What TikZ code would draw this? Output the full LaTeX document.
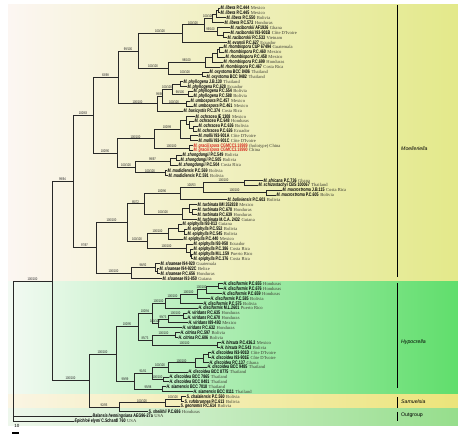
\documentclass[tikz,border=0pt]{standalone}
\usepackage{fontspec}
\setmainfont{Liberation Serif}
\newfontfamily\taxfont[FakeStretch=0.72]{Liberation Sans}
\newfontfamily\ctryfont{Liberation Serif}
\newfontfamily\cladefont{Liberation Sans}
\definecolor{moelL}{RGB}{252,246,242}
\definecolor{moelR}{RGB}{227,233,138}
\definecolor{hypoL}{RGB}{243,250,243}
\definecolor{hypoM}{RGB}{160,234,160}
\definecolor{hypoR}{RGB}{96,222,108}
\definecolor{samuL}{RGB}{250,245,228}
\definecolor{samuR}{RGB}{236,228,122}
\definecolor{outgL}{RGB}{238,247,236}
\definecolor{outgR}{RGB}{150,222,140}
\definecolor{gred}{RGB}{214,38,28}
\definecolor{ctry}{RGB}{60,60,50}
\definecolor{brc}{RGB}{40,40,40}
\newcommand{\tx}[3]{{\bfseries\itshape #1} {\bfseries #2}\hspace{1.5pt}{\ctryfont\fontsize{4.6}{5}\selectfont\color{ctry}#3}}

\begin{document}
\begin{tikzpicture}[x=1pt,y=-4.92pt,
  br/.style={draw=brc,line width=0.9pt},
  leaf/.style={anchor=west,inner sep=0.4pt,font=\taxfont\fontsize{5.1}{5.2}\selectfont},
  bs/.style={anchor=south,inner sep=0.3pt,text=black!85,font=\taxfont\fontsize{3.8}{3.8}\selectfont},
  clade/.style={draw=black,line width=0.8pt},
  cladename/.style={anchor=west,inner sep=0pt,font=\cladefont\fontsize{5.2}{6}\selectfont}]
\useasboundingbox (0,-0.626) rectangle (458,88.6);
%
\shade[left color=moelL,right color=moelR] (8,0.39) rectangle (458,56.5);
\shade[left color=hypoL,middle color=hypoM,right color=hypoR] (8,56.5) rectangle (458,79.5);
\shade[left color=samuL,right color=samuR] (8,79.5) rectangle (458,82.5);
\shade[left color=outgL,right color=outgR] (8,82.5) rectangle (458,85.9);
%
% Moelleriella
\node[leaf] at (220,1) (lib444) {\tx{M. libera}{P.C.444}{Mexico}};
\node[leaf] at (220,2) (lib445) {\tx{M. libera}{P.C.445}{Mexico}};
\node[leaf] at (226,3) (lib550) {\tx{M. libera}{P.C.550}{Bolivia}};
\node[leaf] at (224,4) (lib572) {\tx{M. libera}{P.C.572}{Honduras}};
\node[leaf] at (230,5) (racAF) {\tx{M. raciborskii}{AF1926}{Ghana}};
\node[leaf] at (230,6) (rac901B) {\tx{M. raciborskii}{I93-901B}{Côte D'Ivoire}};
\node[leaf] at (227,7) (rac533) {\tx{M. raciborskii}{P.C.533}{Vietnam}};
\node[leaf] at (227,8) (eva627) {\tx{M. evansii}{P.C.627}{Ecuador}};
\node[leaf] at (223,9) (rhoCUP) {\tx{M. rhombispora}{CUP 67494}{Guatemala}};
\node[leaf] at (224,10) (rho460) {\tx{M. rhombispora}{P.C.460}{Mexico}};
\node[leaf] at (225,11) (rho458) {\tx{M. rhombispora}{P.C.458}{Mexico}};
\node[leaf] at (223,12) (rho699) {\tx{M. rhombispora}{P.C.699}{Honduras}};
\node[leaf] at (220,13) (rho467) {\tx{M. rhombispora}{P.C.467}{Costa Rica}};
\node[leaf] at (209,14) (oxy8406) {\tx{M. oxystoma}{BCC 8406}{Thailand}};
\node[leaf] at (206,15) (oxy9482) {\tx{M. oxystoma}{BCC 9482}{Thailand}};
\node[leaf] at (183,16) (phy130) {\tx{M. phyllogena}{J.B.130}{Thailand}};
\node[leaf] at (187,17) (phy628) {\tx{M. phyllogena}{P.C.628}{Ecuador}};
\node[leaf] at (193,18) (phy554) {\tx{M. phyllogena}{P.C.554}{Bolivia}};
\node[leaf] at (193,19) (phy588) {\tx{M. phyllogena}{P.C.588}{Bolivia}};
\node[leaf] at (190,20) (umb457) {\tx{M. umbospora}{P.C.457}{Mexico}};
\node[leaf] at (193,21) (umb461) {\tx{M. umbospora}{P.C.461}{Mexico}};
\node[leaf] at (183,22) (bas374) {\tx{M. basicystis}{P.C.374}{Costa Rica}};
\node[leaf] at (195,23) (och1308) {\tx{M. ochracea}{IE 1308}{Mexico}};
\node[leaf] at (194,24) (och648) {\tx{M. ochracea}{P.C.648}{Honduras}};
\node[leaf] at (198,25) (och636) {\tx{M. ochracea}{P.C.636}{Bolivia}};
\node[leaf] at (197,26) (och626) {\tx{M. ochracea}{P.C.626}{Ecuador}};
\node[leaf] at (198,27) (mol901A) {\tx{M. mollii}{I93-901A}{Côte D'Ivoire}};
\node[leaf] at (198,28) (mol901C) {\tx{M. mollii}{I93-901C}{Côte D'Ivoire}};
\node[leaf,text=gred] at (193,29) (gra89) {\tx{M. gracilispora}{CGMCC3.18989}{(holotype) China}};
\node[leaf,text=gred] at (193,30) (gra90) {\tx{M. gracilispora}{CGMCC3.18990}{China}};
\node[leaf] at (182,31) (zho549) {\tx{M. zhongdongii}{P.C.549}{Bolivia}};
\node[leaf] at (180,32) (zho505) {\tx{M. zhongdongii}{P.C.505}{Bolivia}};
\node[leaf] at (178,33) (zho504) {\tx{M. zhongdongii}{P.C.504}{Costa Rica}};
\node[leaf] at (167,34) (mad569) {\tx{M. madidiensis}{P.C.569}{Bolivia}};
\node[leaf] at (168,35) (mad591) {\tx{M. madidiensis}{P.C.591}{Bolivia}};
\node[leaf] at (263,36) (afr736) {\tx{M. africana}{P.C.736}{Ghana}};
\node[leaf] at (258,37) (sch067) {\tx{M. schizostachyi}{CBS 100067}{Thailand}};
\node[leaf] at (282,38) (mac115) {\tx{M. macrostroma}{J.B.115}{Costa Rica}};
\node[leaf] at (276,39) (mac605) {\tx{M. macrostroma}{P.C.605}{Bolivia}};
\node[leaf] at (227,40) (bol603) {\tx{M. boliviensis}{P.C.603}{Bolivia}};
\node[leaf] at (197,41) (turIMI) {\tx{M. turbinata}{IMI 352838}{Mexico}};
\node[leaf] at (197,42) (tur678) {\tx{M. turbinata}{P.C.678}{Honduras}};
\node[leaf] at (197,43) (tur639) {\tx{M. turbinata}{P.C.639}{Honduras}};
\node[leaf] at (197,44) (turMCA) {\tx{M. turbinata}{M.C.A. 2432}{Guiana}};
\node[leaf] at (182,45) (epi813) {\tx{M. epiphylla}{I93-813}{Guiana}};
\node[leaf] at (187,46) (epi552) {\tx{M. epiphylla}{P.C.552}{Bolivia}};
\node[leaf] at (187,47) (epi545) {\tx{M. epiphylla}{P.C.545}{Bolivia}};
\node[leaf] at (183,48) (epi440) {\tx{M. epiphylla}{P.C.440}{Mexico}};
\node[leaf] at (193,49) (epi958) {\tx{M. epiphylla}{I93-958}{Ecuador}};
\node[leaf] at (193,50) (epi386) {\tx{M. epiphylla}{P.C.386}{Costa Rica}};
\node[leaf] at (193,51) (epi159) {\tx{M. epiphylla}{M.L.159}{Puerto Rico}};
\node[leaf] at (193,52) (epi376) {\tx{M. epiphylla}{P.C.376}{Costa Rica}};
\node[leaf] at (160,53) (slo920) {\tx{M. sloaneae}{I94-920}{Guatemala}};
\node[leaf] at (159,54) (slo922) {\tx{M. sloaneae}{I94-922C}{Belize}};
\node[leaf] at (160,55) (slo656) {\tx{M. sloaneae}{P.C.656}{Honduras}};
\node[leaf] at (162,56) (slo850) {\tx{M. sloaneae}{I93-850}{Guiana}};
%
% Hypocrella
\node[leaf] at (223,57) (dis655) {\tx{H. disciformis}{P.C.655}{Honduras}};
\node[leaf] at (223,58) (dis676) {\tx{H. disciformis}{P.C.676}{Honduras}};
\node[leaf] at (222,59) (dis659) {\tx{H. disciformis}{P.C.659}{Honduras}};
\node[leaf] at (210,60) (dis585) {\tx{H. disciformis}{P.C.585}{Bolivia}};
\node[leaf] at (203,61) (dis575) {\tx{H. disciformis}{P.C.575}{Bolivia}};
\node[leaf] at (198,62) (dis2601) {\tx{H. disciformis}{M.L.2601}{Puerto Rico}};
\node[leaf] at (187,63) (vir635) {\tx{H. viridans}{P.C.635}{Honduras}};
\node[leaf] at (187,64) (vir670) {\tx{H. viridans}{P.C.670}{Honduras}};
\node[leaf] at (188,65) (vir493) {\tx{H. viridans}{I89-493}{Mexico}};
\node[leaf] at (182,66) (vir632) {\tx{H. viridans}{P.C.632}{Honduras}};
\node[leaf] at (180,67) (cit597) {\tx{H. citrina}{P.C.597}{Bolivia}};
\node[leaf] at (178,68) (cit606) {\tx{H. citrina}{P.C.606}{Bolivia}};
\node[leaf] at (221,69) (hir436) {\tx{H. hirsuta}{P.C.436.2}{Mexico}};
\node[leaf] at (220,70) (hir543) {\tx{H. hirsuta}{P.C.543}{Bolivia}};
\node[leaf] at (211,71) (dcd901D) {\tx{H. discoidea}{I93-901D}{Côte D'Ivoire}};
\node[leaf] at (211,72) (dcd901E) {\tx{H. discoidea}{I93-901E}{Côte D'Ivoire}};
\node[leaf] at (209,73) (dcd137) {\tx{H. discoidea}{P.C.137}{Ghana}};
\node[leaf] at (207,74) (dcd9485) {\tx{H. discoidea}{BCC 9485}{Thailand}};
\node[leaf] at (188,75) (dcd8775) {\tx{H. discoidea}{BCC 8775}{Thailand}};
\node[leaf] at (169,76) (dcd7865) {\tx{H. discoidea}{BCC 7865}{Thailand}};
\node[leaf] at (169,77) (dcd8481) {\tx{H. discoidea}{BCC 8481}{Thailand}};
\node[leaf] at (166,78) (sia7018) {\tx{H. siamensis}{BCC 7018}{Thailand}};
\node[leaf] at (193,79) (sia8111) {\tx{H. siamensis}{BCC 8111}{Thailand}};
%
% Samuelsia and outgroup
\node[leaf] at (186,80) (samCha) {\tx{S. chalalensis}{P.C.560}{Bolivia}};
\node[leaf] at (184,81) (samRuf) {\tx{S. rufobrunnea}{P.C.613}{Bolivia}};
\node[leaf] at (180,82) (samGeo) {\tx{S. geonomis}{P.C.614}{Bolivia}};
\node[leaf] at (148,83) (samShe) {\tx{S. sheikhii}{P.C.686}{Honduras}};
\node[leaf] at (92,84) (balHen) {\tx{Balansia henningsiana}{AEG96-27a}{USA}};
\node[leaf] at (74,85) (epiEly) {\tx{Epichloë elymi}{C.Schardl 760}{USA}};
%
% inner nodes
\coordinate (root) at (13,56.5);  \coordinate (ingr) at (52,56.5);
\coordinate (moel) at (73,36.27); \coordinate (mA) at (93,22.81); \coordinate (mB) at (96,49.73);
\coordinate (mA1) at (118,15.13); \coordinate (mA1a) at (138,9.75); \coordinate (mP) at (157,20.5);
\coordinate (mQ) at (162,19);     \coordinate (mA2) at (117,30.49); \coordinate (mB1) at (154,27.6);
\coordinate (mB2) at (135,33.38);
\coordinate (libev) at (182,6.22); \coordinate (librac) at (204,4.44);
\coordinate (lib 1) at (212,3.125); \coordinate (lib 2) at (216,2.25); \coordinate (lib 3) at (218,1.5);
\coordinate (rac 1) at (217,5.75); \coordinate (rac 2) at (223,6.5);
\coordinate (rhoxy) at (168,13.28); \coordinate (rho 1) at (205,12.06); \coordinate (rho 2) at (212,11.13);
\coordinate (rho 3) at (217,10.25); \coordinate (rho 4) at (219,9.5); \coordinate (oxy) at (202,14.5);
\coordinate (phy 1) at (172,17.5); \coordinate (phy 2) at (180,16.5); \coordinate (phy 3) at (188,18.5);
\coordinate (umb) at (186,20.5);
\coordinate (ochmol) at (180,25.69); \coordinate (och 1) at (186,23.88); \coordinate (och 2) at (189,24.75);
\coordinate (och 3) at (193,25.5); \coordinate (mol) at (190,27.5); \coordinate (gra) at (189,29.5);
\coordinate (zho 1) at (170,32.25); \coordinate (zho 2) at (176,31.5); \coordinate (mad) at (165,34.5);
\coordinate (mC) at (127,44.59); \coordinate (mF) at (144,40.81); \coordinate (mD) at (180,38.75);
\coordinate (mE) at (203,37.5); \coordinate (afr) at (244,36.5); \coordinate (mac) at (266,38.5);
\coordinate (tur 1) at (182,42.88); \coordinate (tur 2) at (189,41.75); \coordinate (tur 3) at (192,42.5);
\coordinate (mG) at (147,48.38); \coordinate (epi 1) at (168,46.88); \coordinate (epi 1a) at (178,45.75);
\coordinate (epi 2) at (184,46.5); \coordinate (epi 3) at (186,49.88); \coordinate (epi 4) at (190,50.75);
\coordinate (epi 5) at (191,51.5);
\coordinate (slo 1) at (131,54.88); \coordinate (slo 2) at (155,53.75); \coordinate (slo 3) at (157,54.5);
\coordinate (hysa) at (89,76.73); \coordinate (hypo) at (116,71.34);
\coordinate (hH1) at (138,65.79); \coordinate (hH1a) at (152,63.08); \coordinate (hH1b) at (152,68.5);
\coordinate (dis 1) at (165,61.03); \coordinate (dis 2) at (180,60.06); \coordinate (dis 3) at (197,59.13);
\coordinate (dis 4) at (206,58.25); \coordinate (dis 5) at (218,57.5);
\coordinate (vir 1) at (158,65.13); \coordinate (vir 2) at (168,64.25); \coordinate (vir 3) at (183,63.5);
\coordinate (cit) at (175,67.5); \coordinate (hir) at (217,69.5);
\coordinate (hH2) at (134,76.89); \coordinate (dcd 2) at (152,75.28); \coordinate (dcd 3) at (168,74.06);
\coordinate (dcd 4) at (195,73.13); \coordinate (dcd 5) at (203,72.25); \coordinate (dcd 6) at (208,71.5);
\coordinate (dcd 7) at (163,76.5); \coordinate (sia) at (162,78.5);
\coordinate (sam 1) at (119,82.13); \coordinate (sam 2) at (165,81.25); \coordinate (sam 3) at (181,80.5);
%
% branches
\draw[br] (root) |- node[bs,pos=.75] {100/100} (ingr) (root) |- (balHen) (root) |- (epiEly);
\draw[br] (ingr) |- node[bs,pos=.75] {99/94} (moel) (ingr) |- node[bs,pos=.75] {100/100} (hysa);
\draw[br] (moel) |- node[bs,pos=.75] {100/83} (mA) (moel) |- node[bs,pos=.75] {97/97} (mB);
\draw[br] (mA) |- node[bs,pos=.75] {83/98} (mA1) (mA) |- node[bs,pos=.75] {100/90} (mA2);
\draw[br] (mA1) |- node[bs,pos=.75] {99/100} (mA1a) (mA1) |- node[bs,pos=.75] {100/100} (mP);
\draw[br] (mA1a) |- node[bs,pos=.75] {100/100} (libev) (mA1a) |- node[bs,pos=.75] {100/100} (rhoxy);
\draw[br] (libev) |- node[bs,pos=.75] {100/100} (librac) (libev) |- (eva627);
\draw[br] (librac) |- node[bs,pos=.75] {100/100} (lib 1) (librac) |- node[bs,pos=.75] {99/100} (rac 1);
\draw[br] (lib 1) |- (lib 2) (lib 1) |- (lib572) (lib 2) |- (lib 3) (lib 2) |- (lib550);
\draw[br] (lib 3) |- (lib444) (lib 3) |- (lib445);
\draw[br] (rac 1) |- (racAF) (rac 1) |- (rac 2) (rac 2) |- (rac901B) (rac 2) |- (rac533);
\draw[br] (rhoxy) |- node[bs,pos=.75] {98/100} (rho 1) (rhoxy) |- node[bs,pos=.75] {100/100} (oxy);
\draw[br] (rho 1) |- (rho 2) (rho 1) |- (rho467) (rho 2) |- (rho 3) (rho 2) |- (rho699);
\draw[br] (rho 3) |- (rho 4) (rho 3) |- (rho458) (rho 4) |- (rhoCUP) (rho 4) |- (rho460);
\draw[br] (oxy) |- (oxy8406) (oxy) |- (oxy9482);
\draw[br] (mP) |- node[bs,pos=.75] {99/98} (mQ) (mP) |- (bas374);
\draw[br] (mQ) |- node[bs,pos=.75] {100/100} (phy 1) (mQ) |- node[bs,pos=.75] {100/100} (umb);
\draw[br] (phy 1) |- (phy 2) (phy 1) |- node[bs,pos=.75] {98/100} (phy 3);
\draw[br] (phy 2) |- (phy130) (phy 2) |- (phy628) (phy 3) |- (phy554) (phy 3) |- (phy588);
\draw[br] (umb) |- (umb457) (umb) |- (umb461);
\draw[br] (mA2) |- node[bs,pos=.75] {100/100} (mB1) (mA2) |- node[bs,pos=.75] {100/100} (mB2);
\draw[br] (mB1) |- node[bs,pos=.75] {100/99} (ochmol) (mB1) |- node[bs,pos=.75] {100/100} (gra);
\draw[br] (ochmol) |- (och 1) (ochmol) |- (mol);
\draw[br] (och 1) |- (och1308) (och 1) |- (och 2) (och 2) |- (och648) (och 2) |- (och 3);
\draw[br] (och 3) |- (och636) (och 3) |- (och626) (mol) |- (mol901A) (mol) |- (mol901C);
\draw[br] (gra) |- (gra89) (gra) |- (gra90);
\draw[br] (mB2) |- node[bs,pos=.75] {99/97} (zho 1) (mB2) |- node[bs,pos=.75] {100/100} (mad);
\draw[br] (zho 1) |- (zho 2) (zho 1) |- (zho504) (zho 2) |- (zho549) (zho 2) |- (zho505);
\draw[br] (mad) |- (mad569) (mad) |- (mad591);
\draw[br] (mB) |- node[bs,pos=.75] {100/100} (mC) (mB) |- node[bs,pos=.75] {100/100} (slo 1);
\draw[br] (mC) |- node[bs,pos=.75] {85/72} (mF) (mC) |- node[bs,pos=.75] {100/100} (mG);
\draw[br] (mF) |- node[bs,pos=.75] {100/96} (mD) (mF) |- node[bs,pos=.75] {100/100} (tur 1);
\draw[br] (mD) |- node[bs,pos=.75] {100/53} (mE) (mD) |- (bol603);
\draw[br] (mE) |- node[bs,pos=.75] {100/100} (afr) (mE) |- node[bs,pos=.75] {100/100} (mac);
\draw[br] (afr) |- (afr736) (afr) |- (sch067) (mac) |- (mac115) (mac) |- (mac605);
\draw[br] (tur 1) |- (tur 2) (tur 1) |- (turMCA) (tur 2) |- (turIMI) (tur 2) |- (tur 3);
\draw[br] (tur 3) |- (tur678) (tur 3) |- (tur639);
\draw[br] (mG) |- node[bs,pos=.75] {100/100} (epi 1) (mG) |- node[bs,pos=.75] {100/100} (epi 3);
\draw[br] (epi 1) |- (epi 1a) (epi 1) |- (epi440) (epi 1a) |- (epi813) (epi 1a) |- (epi 2);
\draw[br] (epi 2) |- (epi552) (epi 2) |- (epi545);
\draw[br] (epi 3) |- (epi958) (epi 3) |- (epi 4) (epi 4) |- (epi386) (epi 4) |- (epi 5);
\draw[br] (epi 5) |- (epi159) (epi 5) |- (epi376);
\draw[br] (slo 1) |- node[bs,pos=.75] {96/92} (slo 2) (slo 1) |- (slo850);
\draw[br] (slo 2) |- (slo920) (slo 2) |- (slo 3) (slo 3) |- (slo922) (slo 3) |- (slo656);
%
\draw[br] (hysa) |- node[bs,pos=.75] {100/100} (hypo) (hysa) |- node[bs,pos=.75] {92/85} (sam 1);
\draw[br] (hypo) |- node[bs,pos=.75] {100/95} (hH1) (hypo) |- node[bs,pos=.75] {99/99} (hH2);
\draw[br] (hH1) |- node[bs,pos=.75] {100/94} (hH1a) (hH1) |- node[bs,pos=.75] {85/73} (hH1b);
\draw[br] (hH1a) |- node[bs,pos=.75] {100/100} (dis 1) (hH1a) |- node[bs,pos=.75] {100/100} (vir 1);
\draw[br] (dis 1) |- node[bs,pos=.75] {100/100} (dis 2) (dis 1) |- (dis2601);
\draw[br] (dis 2) |- node[bs,pos=.75] {100/100} (dis 3) (dis 2) |- (dis575);
\draw[br] (dis 3) |- node[bs,pos=.75] {100/100} (dis 4) (dis 3) |- (dis585);
\draw[br] (dis 4) |- (dis 5) (dis 4) |- (dis659) (dis 5) |- (dis655) (dis 5) |- (dis676);
\draw[br] (vir 1) |- node[bs,pos=.75] {99/73} (vir 2) (vir 1) |- (vir632);
\draw[br] (vir 2) |- node[bs,pos=.75] {100/100} (vir 3) (vir 2) |- (vir493);
\draw[br] (vir 3) |- (vir635) (vir 3) |- (vir670);
\draw[br] (hH1b) |- node[bs,pos=.75] {100/100} (cit) (hH1b) |- node[bs,pos=.75] {100/100} (hir);
\draw[br] (cit) |- (cit597) (cit) |- (cit606) (hir) |- (hir436) (hir) |- (hir543);
\draw[br] (hH2) |- node[bs,pos=.75] {91/81} (dcd 2) (hH2) |- node[bs,pos=.75] {95/98} (sia);
\draw[br] (dcd 2) |- node[bs,pos=.75] {100/100} (dcd 3) (dcd 2) |- node[bs,pos=.75] {100/100} (dcd 7);
\draw[br] (dcd 3) |- node[bs,pos=.75] {100/100} (dcd 4) (dcd 3) |- (dcd8775);
\draw[br] (dcd 4) |- (dcd 5) (dcd 4) |- (dcd9485) (dcd 5) |- (dcd 6) (dcd 5) |- (dcd137);
\draw[br] (dcd 6) |- (dcd901D) (dcd 6) |- (dcd901E);
\draw[br] (dcd 7) |- (dcd7865) (dcd 7) |- (dcd8481) (sia) |- (sia7018) (sia) |- (sia8111);
\draw[br] (sam 1) |- node[bs,pos=.75] {100/100} (sam 2) (sam 1) |- (samShe);
\draw[br] (sam 2) |- node[bs,pos=.75] {100/100} (sam 3) (sam 2) |- (samGeo);
\draw[br] (sam 3) |- (samCha) (sam 3) |- (samRuf);
%
% clades and scale
\coordinate (moel top) at (397,0.39);  \coordinate (moel bot) at (397,55.7);
\coordinate (hypo top) at (397,56.9);  \coordinate (hypo bot) at (397,78.2);
\coordinate (samu top) at (397,80.1);  \coordinate (samu bot) at (397,82.3);
\coordinate (outg top) at (397,83.1);  \coordinate (outg bot) at (397,85);
\draw[clade] (moel top) -- (moel bot);
\draw[clade] (hypo top) -- (hypo bot);
\draw[clade] (samu top) -- (samu bot);
\draw[clade] (outg top) -- (outg bot);
\node[cladename] at (401,29.5) (moel name) {\itshape Moelleriella};
\node[cladename] at (401,68.9) (hypo name) {\itshape Hypocrella};
\node[cladename] at (401,81.1) (samu name) {\itshape Samuelsia};
\node[cladename] at (401,83.8) (outg name) {Outgroup};
\coordinate (bar a) at (12,87.4); \coordinate (bar b) at (19,87.4);
\draw[line width=1.3pt] (bar a) -- (bar b);
\node[font=\cladefont\fontsize{4.5}{5}\selectfont,inner sep=0pt] at (17,85.9) (bar name) {10};
\end{tikzpicture}
\end{document}
